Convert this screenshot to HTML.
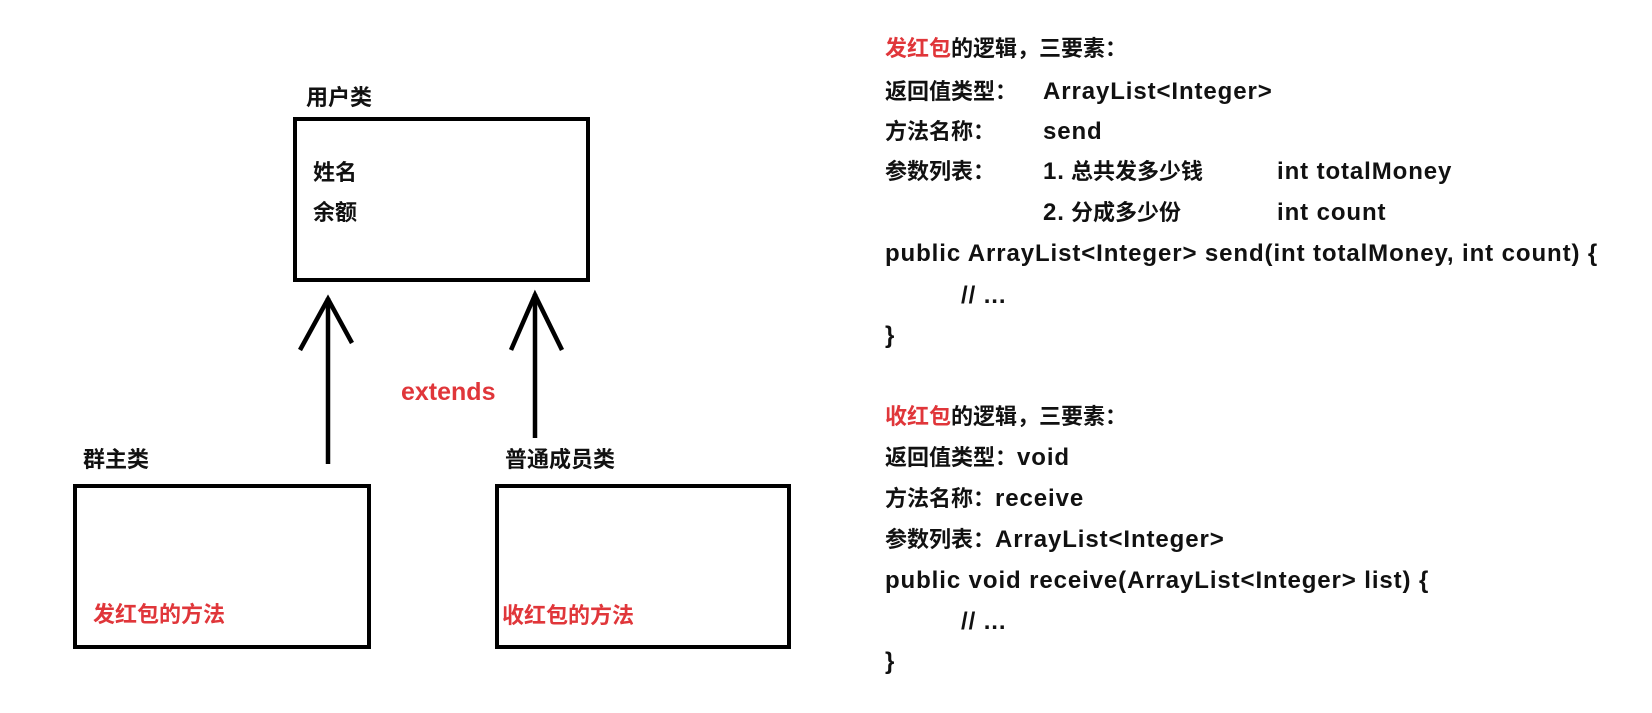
<!DOCTYPE html>
<html><head><meta charset="utf-8"><style>
html,body{margin:0;padding:0;background:#fff;}
body{width:1652px;height:713px;position:relative;overflow:hidden;font-family:"Liberation Sans","Noto Sans CJK SC",sans-serif;font-weight:bold;color:#111;}
.t{position:absolute;font-size:22px;line-height:30px;height:30px;white-space:pre;}
.l{font-size:24px;letter-spacing:0.9px;}
.r{color:#e0363a;}
.box{position:absolute;border:4.5px solid #000;box-sizing:border-box;}
</style></head><body>
<div class="box" style="left:293px;top:117px;width:297px;height:165px;"></div>
<div class="box" style="left:73px;top:484px;width:298px;height:165px;"></div>
<div class="box" style="left:495px;top:484px;width:296px;height:165px;"></div>
<svg width="1652" height="713" style="position:absolute;left:0;top:0" fill="none" stroke="#000" stroke-width="4.5">
<line x1="328" y1="464" x2="328" y2="298"/>
<polyline points="300,350 328,299 352,343"/>
<line x1="535" y1="438" x2="535" y2="294"/>
<polyline points="511,350 535,295 562,350"/>
</svg>
<div class="t" style="left:306px;top:83px;">用户类</div>
<div class="t" style="left:313px;top:158px;">姓名</div>
<div class="t" style="left:313px;top:198px;">余额</div>
<div class="t r" style="left:401px;top:377px;font-size:25px;">extends</div>
<div class="t" style="left:83px;top:445px;">群主类</div>
<div class="t" style="left:505px;top:445px;">普通成员类</div>
<div class="t r" style="left:93px;top:600px;">发红包的方法</div>
<div class="t r" style="left:502px;top:601px;">收红包的方法</div>

<div class="t" style="left:885px;top:34px;"><span class="r">发红包</span>的逻辑，三要素：</div>
<div class="t" style="left:885px;top:77px;">返回值类型：</div><div class="t l" style="left:1043px;top:77px;">ArrayList&lt;Integer&gt;</div>
<div class="t" style="left:885px;top:117px;">方法名称：</div><div class="t l" style="left:1043px;top:117px;">send</div>
<div class="t" style="left:885px;top:157px;">参数列表：</div><div class="t" style="left:1043px;top:157px;"><span class="l">1.</span> 总共发多少钱</div><div class="t l" style="left:1277px;top:157px;">int totalMoney</div>
<div class="t" style="left:1043px;top:198px;"><span class="l">2.</span> 分成多少份</div><div class="t l" style="left:1277px;top:198px;">int count</div>
<div class="t l" style="left:885px;top:239px;">public ArrayList&lt;Integer&gt; send(int totalMoney, int count) {</div>
<div class="t l" style="left:961px;top:281px;">// ...</div>
<div class="t l" style="left:885px;top:321px;">}</div>

<div class="t" style="left:885px;top:402px;"><span class="r">收红包</span>的逻辑，三要素：</div>
<div class="t" style="left:885px;top:443px;">返回值类型：<span class="l">void</span></div>
<div class="t" style="left:885px;top:484px;">方法名称：<span class="l">receive</span></div>
<div class="t" style="left:885px;top:525px;">参数列表：<span class="l">ArrayList&lt;Integer&gt;</span></div>
<div class="t l" style="left:885px;top:566px;">public void receive(ArrayList&lt;Integer&gt; list) {</div>
<div class="t l" style="left:961px;top:607px;">// ...</div>
<div class="t l" style="left:885px;top:647px;">}</div>
</body></html>
